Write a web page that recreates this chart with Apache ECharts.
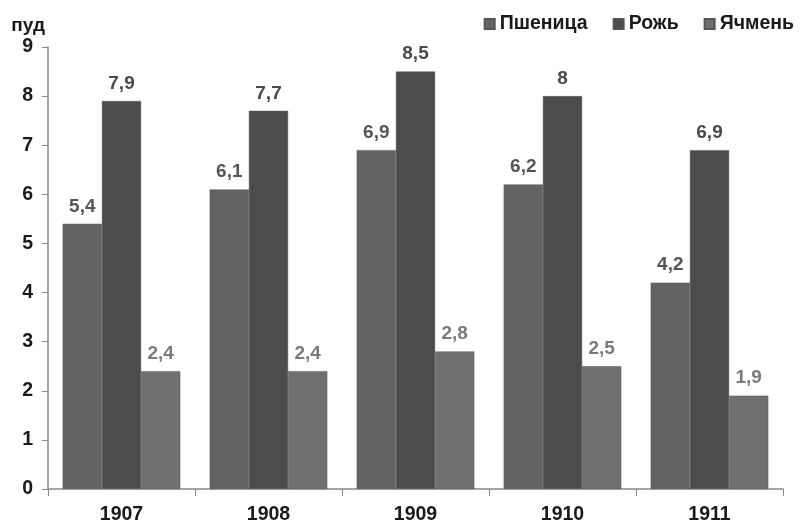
<!DOCTYPE html>
<html><head><meta charset="utf-8">
<script src="https://cdn.jsdelivr.net/npm/echarts@6/dist/echarts.min.js"></script>
<style>html,body{margin:0;padding:0;background:#fff}#c{width:802px;height:525px}</style>
</head><body><div id="c"></div>
<script>
const years = ['1907','1908','1909','1910','1911'];
const wheat = [5.4, 6.1, 6.9, 6.2, 4.2];
const rye = [7.9, 7.7, 8.5, 8.0, 6.9];
const barley = [2.4, 2.4, 2.8, 2.5, 1.9];
const seriesNames = ['Пшеница','Рожь','Ячмень'];
const colors = ['#636366','#4c4c4e','#707070'];
const labelColors = ['#555557','#4a4a4c','#7a7a7a'];
const font = 'Liberation Sans, Arial, sans-serif';
function fmt(v){return String(v.value).replace('.',',');}
const chart = echarts.init(document.getElementById('c'));
const data = [wheat, rye, barley];
chart.setOption({
  animation:false,
  textStyle:{fontFamily:font},
  legend:{right:3,top:9,itemWidth:10,itemHeight:10,itemGap:25,
    textStyle:{fontSize:19.5,fontWeight:'bold',color:'#1a1a1a',fontFamily:font},
    icon:'rect', data:seriesNames},
  grid:{left:48,right:19,top:47,bottom:34},
  xAxis:{type:'category',data:years,
    axisLine:{lineStyle:{color:'#888',width:1.5}},
    axisTick:{show:true,length:7,lineStyle:{color:'#888'}},
    axisLabel:{fontSize:19.5,fontWeight:'bold',color:'#1a1a1a',margin:16}},
  yAxis:{type:'value',min:0,max:9,interval:1,name:'пуд',
    nameLocation:'end',nameGap:12,
    nameTextStyle:{fontSize:19,fontWeight:'bold',color:'#1a1a1a',align:'right',padding:[0,3,0,0]},
    axisLine:{show:true,lineStyle:{color:'#888',width:1.5}},
    axisTick:{show:true,length:6,lineStyle:{color:'#888'}},
    splitLine:{show:false},
    axisLabel:{fontSize:19.5,fontWeight:'bold',color:'#1a1a1a',margin:15}},
  series: seriesNames.map((n,i)=>({
    name:n,type:'bar',data:data[i],barGap:'0%',barCategoryGap:'20%',
    itemStyle:{color:colors[i],borderColor:'#555',borderWidth:0.5},
    label:{show:true,position:'top',formatter:fmt,fontSize:19,fontWeight:'bold',color:labelColors[i],distance:8}
  }))
});
</script></body></html>
